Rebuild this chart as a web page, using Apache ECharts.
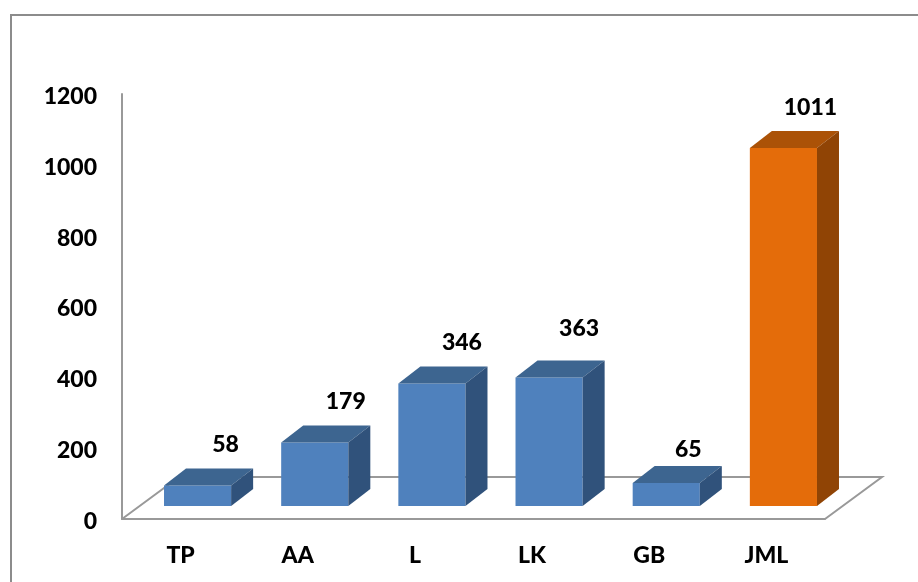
<!DOCTYPE html>
<html>
<head>
<meta charset="utf-8">
<script src="https://cdn.jsdelivr.net/npm/echarts@6/dist/echarts.min.js"></script>
<style>
  html, body { margin: 0; padding: 0; background: #fff; }
  #chart { width: 918px; height: 582px; }
</style>
</head>
<body>
<div id="chart"></div>
<script>
const categories = ["TP", "AA", "L", "LK", "GB", "JML"];
const values = [58, 179, 346, 363, 65, 1011];
const yTicks = [0, 200, 400, 600, 800, 1000, 1200];

// bar faces: front, top, side
const blueFaces = ["#4f81bd", "#3d6590", "#30527b"];
const orangeFaces = ["#e46c0a", "#ab5207", "#904405"];
const axisColor = "#999999";
const font = "Lato";

// the floor of the fake 3d box, in pixels
const floorDx = 57, floorDy = 42;
// bars stand part way back on the floor
const standDx = 17, standDy = -13;
const barDx = 22, barDy = -17;
const barRatio = 0.573;
// value labels do not sit at a constant offset in the original
const labelNudge = [[28, -41], [31, -41], [30, -41], [30, -49], [22, -33], [27, -40]];

function renderFloor(params, api) {
  const o = api.coord([0, 0]);
  const w = api.size([1, 0])[0];
  const x0 = o[0] - w / 2, y0 = o[1];
  return {
    type: "polyline",
    shape: {
      points: [
        [x0, y0],
        [x0 + floorDx, y0 - floorDy],
        [x0 + w * 6 + floorDx, y0 - floorDy],
        [x0 + w * 6, y0]
      ]
    },
    style: { stroke: axisColor, lineWidth: 2, fill: null }
  };
}

function renderBar(params, api) {
  const idx = api.value(0), val = api.value(1);
  const base = api.coord([idx, 0]);
  const top = api.coord([idx, val]);
  const h = base[1] - top[1];
  const bw = api.size([1, 0])[0] * barRatio;
  const l = base[0] + standDx - bw / 2, r = l + bw;
  const b = base[1] + standDy, t = b - h;
  const faces = idx === 5 ? orangeFaces : blueFaces;
  const poly = (pts, fill) => ({ type: "polygon", shape: { points: pts }, style: { fill: fill } });
  return {
    type: "group",
    children: [
      poly([[l, t], [r, t], [r, b], [l, b]], faces[0]),
      poly([[l, t], [l + barDx, t + barDy], [r + barDx, t + barDy], [r, t]], faces[1]),
      poly([[r, t], [r + barDx, t + barDy], [r + barDx, b + barDy], [r, b]], faces[2]),
      {
        type: "text",
        style: {
          text: String(val),
          x: base[0] + standDx + labelNudge[idx][0],
          y: t + labelNudge[idx][1],
          align: "center",
          verticalAlign: "middle",
          font: "900 23px " + font,
          fill: "#000"
        }
      }
    ]
  };
}

const chart = echarts.init(document.getElementById("chart"));
chart.setOption({
  animation: false,
  grid: { left: 122, right: 93, top: 94, bottom: 63, containLabel: false },
  xAxis: {
    type: "category",
    data: categories,
    axisLine: { lineStyle: { color: axisColor, width: 2 } },
    axisTick: { show: false },
    axisLabel: { color: "#000", fontFamily: font, fontWeight: 900, fontSize: 23, margin: 25 }
  },
  yAxis: {
    type: "value",
    min: yTicks[0],
    max: yTicks[yTicks.length - 1],
    interval: yTicks[1] - yTicks[0],
    axisLine: { show: true, lineStyle: { color: axisColor, width: 2 } },
    axisTick: { show: false },
    splitLine: { show: false },
    axisLabel: {
      color: "#000", fontFamily: font, fontWeight: 900, fontSize: 23, margin: 25,
      formatter: (v) => "{v|" + v + "}",
      rich: { v: { color: "#000", fontFamily: font, fontWeight: 900, fontSize: 23, padding: [5, 0, 0, 0] } }
    }
  },
  graphic: [{
    type: "polyline",
    shape: { points: [[11, 582], [11, 15], [918, 15]] },
    style: { stroke: "#8c8c8c", lineWidth: 2, fill: null },
    silent: true
  }],
  series: [
    { type: "custom", renderItem: renderFloor, data: [[0, 0]], z: 1, silent: true },
    {
      type: "custom",
      renderItem: renderBar,
      data: values.map((v, i) => [i, v]),
      encode: { x: 0, y: 1 },
      z: 2,
      silent: true
    }
  ]
});
</script>
</body>
</html>
